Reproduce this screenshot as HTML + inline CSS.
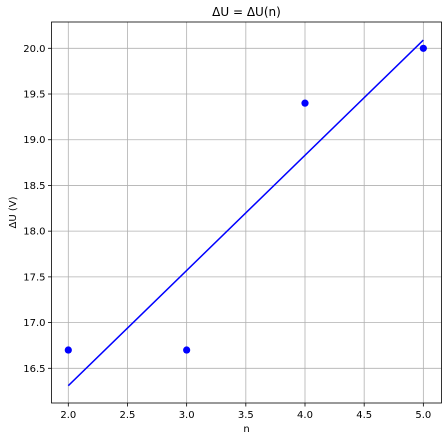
<!DOCTYPE html>
<html><head><meta charset="utf-8"><style>
body{margin:0;background:#fff;}
svg text{font-family:"DejaVu Sans","Liberation Sans",sans-serif;font-size:10px;fill:#000;}
</style></head><body>
<svg id="c" width="448" height="441" xmlns="http://www.w3.org/2000/svg"></svg>
<script>
const nVals=[2,3,4,5];
const dUVals=[16.7,16.7,19.4,20.0];
const xTicks=[2.0,2.5,3.0,3.5,4.0,4.5,5.0];
const yTicks=[16.5,17.0,17.5,18.0,18.5,19.0,19.5,20.0];
const L=51.5,R=441.5,T=22,B=403;
const X=v=>68.3+(v-2)*118.35;
const Y=v=>48.3+(20-v)*91.43;
const svg=document.getElementById('c');
const NS='http://www.w3.org/2000/svg';
function mk(t,a,p){const e=document.createElementNS(NS,t);for(const k in a)e.setAttribute(k,a[k]);(p||svg).appendChild(e);return e;}
const grid=mk('g',{});


xTicks.forEach(t=>{
  mk('line',{x1:X(t),x2:X(t),y1:T,y2:B,stroke:'#b0b0b0','stroke-width':0.8},grid);
  mk('line',{x1:X(t),x2:X(t),y1:B,y2:B+3.5,stroke:'#000','stroke-width':0.8});
  const tx=mk('text',{x:X(t),y:B+15,'text-anchor':'middle'});
  
  
  tx.textContent=t.toFixed(1);
});
yTicks.forEach(t=>{
  mk('line',{x1:L,x2:R,y1:Y(t),y2:Y(t),stroke:'#b0b0b0','stroke-width':0.8},grid);
  mk('line',{x1:L-3.5,x2:L,y1:Y(t),y2:Y(t),stroke:'#000','stroke-width':0.8});
  const tx=mk('text',{x:L-6,y:Y(t)+3.5,'text-anchor':'end'});
  
  
  tx.textContent=t.toFixed(1);
});
// linear fit
const n=nVals.length,mx=nVals.reduce((a,b)=>a+b)/n,my=dUVals.reduce((a,b)=>a+b)/n;
let sxy=0,sxx=0;nVals.forEach((x,i)=>{sxy+=(x-mx)*(dUVals[i]-my);sxx+=(x-mx)**2;});
const k=sxy/sxx,b=my-k*mx;
const x0=Math.min(...nVals),x1=Math.max(...nVals);
const fl=mk('line',{x1:X(x0),y1:Y(k*x0+b),x2:X(x1),y2:Y(k*x1+b),stroke:'#0000ff','stroke-width':1.5});


nVals.forEach((x,i)=>{
  const c=mk('circle',{cx:X(x),cy:Y(dUVals[i]),r:3.6,fill:'#0000ff'});
  
  
});
const fr=mk('rect',{x:L,y:T,width:R-L,height:B-T,fill:'none',stroke:'#000','stroke-width':0.8});


const ti=mk('text',{x:(L+R)/2,y:16,'text-anchor':'middle',style:'font-size:12px'});


ti.textContent='ΔU = ΔU(n)';
const xl=mk('text',{x:(L+R)/2,y:432,'text-anchor':'middle'});


xl.textContent='n';
const yl=mk('text',{x:16,y:(T+B)/2,'text-anchor':'middle',transform:`rotate(-90 16 ${(T+B)/2})`});


yl.textContent='ΔU (V)';
</script>
</body></html>
